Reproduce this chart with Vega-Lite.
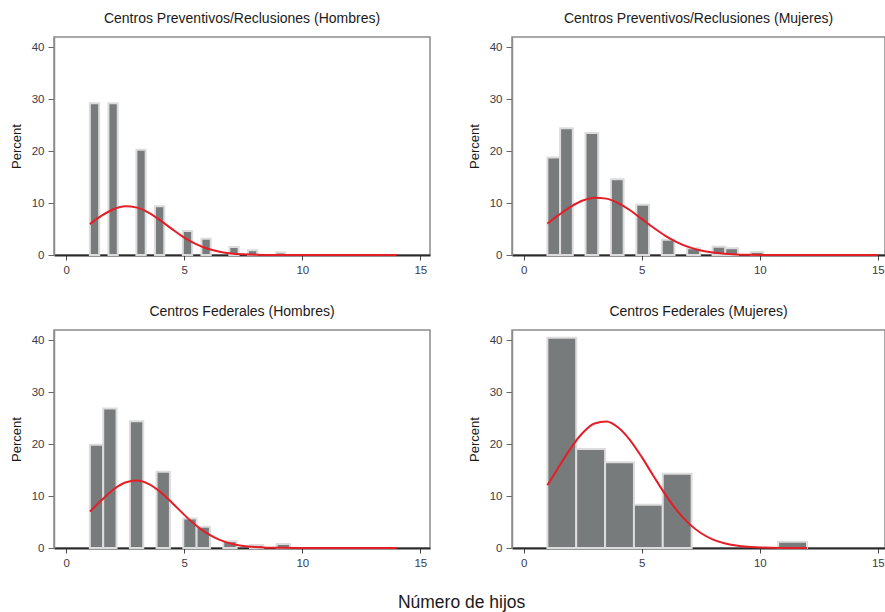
{
  "$schema": "https://vega.github.io/schema/vega-lite/v6.json",
  "padding": {"left": 9, "top": 11, "right": 0, "bottom": 0},
  "background": "white",
  "datasets": {
    "bars": [
      {"p": "P1", "x0": 1.0, "x1": 1.394, "pct": 29.26},
      {"p": "P1", "x0": 1.788, "x1": 2.182, "pct": 29.26},
      {"p": "P1", "x0": 2.970, "x1": 3.364, "pct": 20.3},
      {"p": "P1", "x0": 3.758, "x1": 4.152, "pct": 9.4},
      {"p": "P1", "x0": 4.939, "x1": 5.333, "pct": 4.6},
      {"p": "P1", "x0": 5.727, "x1": 6.121, "pct": 3.15},
      {"p": "P1", "x0": 6.909, "x1": 7.303, "pct": 1.54},
      {"p": "P1", "x0": 7.697, "x1": 8.091, "pct": 0.9},
      {"p": "P1", "x0": 8.879, "x1": 9.273, "pct": 0.5},
      {"p": "P2", "x0": 1.0, "x1": 1.538, "pct": 18.8},
      {"p": "P2", "x0": 1.538, "x1": 2.077, "pct": 24.4},
      {"p": "P2", "x0": 2.615, "x1": 3.154, "pct": 23.5},
      {"p": "P2", "x0": 3.692, "x1": 4.231, "pct": 14.6},
      {"p": "P2", "x0": 4.769, "x1": 5.308, "pct": 9.7},
      {"p": "P2", "x0": 5.846, "x1": 6.385, "pct": 2.95},
      {"p": "P2", "x0": 6.923, "x1": 7.462, "pct": 1.3},
      {"p": "P2", "x0": 8.0, "x1": 8.538, "pct": 1.6},
      {"p": "P2", "x0": 8.538, "x1": 9.077, "pct": 1.3},
      {"p": "P2", "x0": 9.615, "x1": 10.154, "pct": 0.6},
      {"p": "P3", "x0": 1.0, "x1": 1.565, "pct": 19.9},
      {"p": "P3", "x0": 1.565, "x1": 2.130, "pct": 26.9},
      {"p": "P3", "x0": 2.696, "x1": 3.261, "pct": 24.4},
      {"p": "P3", "x0": 3.826, "x1": 4.391, "pct": 14.7},
      {"p": "P3", "x0": 4.957, "x1": 5.522, "pct": 5.7},
      {"p": "P3", "x0": 5.522, "x1": 6.087, "pct": 4.1},
      {"p": "P3", "x0": 6.652, "x1": 7.217, "pct": 1.3},
      {"p": "P3", "x0": 7.783, "x1": 8.348, "pct": 0.6},
      {"p": "P3", "x0": 8.913, "x1": 9.478, "pct": 0.75},
      {"p": "P4", "x0": 1.0, "x1": 2.222, "pct": 40.5},
      {"p": "P4", "x0": 2.222, "x1": 3.444, "pct": 19.05},
      {"p": "P4", "x0": 3.444, "x1": 4.667, "pct": 16.5},
      {"p": "P4", "x0": 4.667, "x1": 5.889, "pct": 8.35},
      {"p": "P4", "x0": 5.889, "x1": 7.111, "pct": 14.3},
      {"p": "P4", "x0": 10.778, "x1": 12.0, "pct": 1.2}
    ],
    "curve": [
      {"p": "P1", "x": 1.0, "y": 5.95}, {"p": "P1", "x": 1.5, "y": 7.57}, {"p": "P1", "x": 2.0, "y": 8.81},
      {"p": "P1", "x": 2.5, "y": 9.38}, {"p": "P1", "x": 3.0, "y": 9.13}, {"p": "P1", "x": 3.5, "y": 8.13},
      {"p": "P1", "x": 4.0, "y": 6.62}, {"p": "P1", "x": 4.5, "y": 4.93}, {"p": "P1", "x": 5.0, "y": 3.35},
      {"p": "P1", "x": 5.5, "y": 2.09}, {"p": "P1", "x": 6.0, "y": 1.19}, {"p": "P1", "x": 6.5, "y": 0.62},
      {"p": "P1", "x": 7.0, "y": 0.29}, {"p": "P1", "x": 7.5, "y": 0.13}, {"p": "P1", "x": 8.0, "y": 0.05},
      {"p": "P1", "x": 8.5, "y": 0.02}, {"p": "P1", "x": 9.0, "y": 0.006}, {"p": "P1", "x": 10.0, "y": 0},
      {"p": "P1", "x": 11.0, "y": 0}, {"p": "P1", "x": 12.0, "y": 0}, {"p": "P1", "x": 13.0, "y": 0},
      {"p": "P1", "x": 14.0, "y": 0},
      {"p": "P2", "x": 1.0, "y": 6.05}, {"p": "P2", "x": 1.5, "y": 7.77}, {"p": "P2", "x": 2.0, "y": 9.33},
      {"p": "P2", "x": 2.5, "y": 10.49}, {"p": "P2", "x": 3.0, "y": 11.04}, {"p": "P2", "x": 3.5, "y": 10.86},
      {"p": "P2", "x": 4.0, "y": 10.0}, {"p": "P2", "x": 4.5, "y": 8.62}, {"p": "P2", "x": 5.0, "y": 6.95},
      {"p": "P2", "x": 5.5, "y": 5.24}, {"p": "P2", "x": 6.0, "y": 3.7}, {"p": "P2", "x": 6.5, "y": 2.45},
      {"p": "P2", "x": 7.0, "y": 1.51}, {"p": "P2", "x": 7.5, "y": 0.87}, {"p": "P2", "x": 8.0, "y": 0.47},
      {"p": "P2", "x": 8.5, "y": 0.24}, {"p": "P2", "x": 9.0, "y": 0.11}, {"p": "P2", "x": 9.5, "y": 0.05},
      {"p": "P2", "x": 10.0, "y": 0.02}, {"p": "P2", "x": 11.0, "y": 0}, {"p": "P2", "x": 12.0, "y": 0},
      {"p": "P2", "x": 13.0, "y": 0}, {"p": "P2", "x": 14.0, "y": 0}, {"p": "P2", "x": 15.0, "y": 0},
      {"p": "P3", "x": 1.0, "y": 7.0}, {"p": "P3", "x": 1.5, "y": 9.25}, {"p": "P3", "x": 2.0, "y": 11.26},
      {"p": "P3", "x": 2.5, "y": 12.61}, {"p": "P3", "x": 3.0, "y": 12.99}, {"p": "P3", "x": 3.5, "y": 12.32},
      {"p": "P3", "x": 4.0, "y": 10.75}, {"p": "P3", "x": 4.5, "y": 8.63}, {"p": "P3", "x": 5.0, "y": 6.38},
      {"p": "P3", "x": 5.5, "y": 4.33}, {"p": "P3", "x": 6.0, "y": 2.71}, {"p": "P3", "x": 6.5, "y": 1.56},
      {"p": "P3", "x": 7.0, "y": 0.83}, {"p": "P3", "x": 7.5, "y": 0.4}, {"p": "P3", "x": 8.0, "y": 0.18},
      {"p": "P3", "x": 8.5, "y": 0.07}, {"p": "P3", "x": 9.0, "y": 0.03}, {"p": "P3", "x": 10.0, "y": 0},
      {"p": "P3", "x": 11.0, "y": 0}, {"p": "P3", "x": 12.0, "y": 0}, {"p": "P3", "x": 13.0, "y": 0},
      {"p": "P3", "x": 14.0, "y": 0},
      {"p": "P4", "x": 1.0, "y": 12.09}, {"p": "P4", "x": 1.5, "y": 15.76}, {"p": "P4", "x": 2.0, "y": 19.3},
      {"p": "P4", "x": 2.5, "y": 22.2}, {"p": "P4", "x": 3.0, "y": 23.99}, {"p": "P4", "x": 3.5, "y": 24.35},
      {"p": "P4", "x": 4.0, "y": 23.22}, {"p": "P4", "x": 4.5, "y": 20.8}, {"p": "P4", "x": 5.0, "y": 17.5},
      {"p": "P4", "x": 5.5, "y": 13.84}, {"p": "P4", "x": 6.0, "y": 10.28}, {"p": "P4", "x": 6.5, "y": 7.17},
      {"p": "P4", "x": 7.0, "y": 4.7}, {"p": "P4", "x": 7.5, "y": 2.89}, {"p": "P4", "x": 8.0, "y": 1.67},
      {"p": "P4", "x": 8.5, "y": 0.91}, {"p": "P4", "x": 9.0, "y": 0.46}, {"p": "P4", "x": 9.5, "y": 0.22},
      {"p": "P4", "x": 10.0, "y": 0.1}, {"p": "P4", "x": 10.5, "y": 0.04}, {"p": "P4", "x": 11.0, "y": 0.02},
      {"p": "P4", "x": 11.5, "y": 0.01}, {"p": "P4", "x": 12.0, "y": 0}
    ]
  },
  "title": {
    "text": "Número de hijos",
    "orient": "bottom",
    "anchor": "middle",
    "frame": "bounds",
    "fontSize": 17.5,
    "fontWeight": "normal",
    "font": "Liberation Sans",
    "color": "#1a1a1a",
    "dx": 14,
    "offset": 25
  },
  "config": {
    "font": "Liberation Sans",
    "view": {"stroke": "#8c8c8c", "strokeWidth": 1.5},
    "axis": {
      "grid": false,
      "labelFont": "Liberation Sans",
      "labelFontSize": 11.5,
      "labelColor": "#3a3a48",
      "labelFlush": false,
      "titleFont": "Liberation Sans",
      "titleFontSize": 13,
      "titleFontWeight": "normal",
      "titleColor": "#1a1a1a"
    },
    "title": {
      "font": "Liberation Sans",
      "fontSize": 14,
      "fontWeight": "normal",
      "color": "#1a1a1a",
      "anchor": "middle",
      "offset": 11
    }
  },
  "spacing": 27,
  "vconcat": [
    {
      "spacing": 36,
      "hconcat": [
        {
          "title": {"text": "Centros Preventivos/Reclusiones (Hombres)", "frame": "group"},
          "width": 376, "height": 218,
          "layer": [
            {
              "data": {"name": "bars"},
              "transform": [{"filter": "datum.p == 'P1'"}],
              "mark": {"type": "rect", "fill": "#777b7b", "stroke": "#dcdcdc", "strokeWidth": 2},
              "encoding": {
                "x": {"field": "x0", "type": "quantitative", "scale": {"domain": [-0.52, 15.41], "nice": false, "zero": false},
                      "axis": {"values": [0, 5, 10, 15], "title": null, "domainColor": "#2a2a2a", "domainWidth": 2, "tickColor": "#444", "tickSize": 5, "labelPadding": 4}},
                "x2": {"field": "x1"},
                "y": {"field": "pct", "type": "quantitative", "scale": {"domain": [0, 42], "nice": false},
                      "axis": {"values": [0, 10, 20, 30, 40], "title": "Percent", "domainColor": "#8c8c8c", "domainWidth": 1.5, "tickColor": "#666", "tickSize": 6, "labelPadding": 4, "titlePadding": 8}},
                "y2": {"datum": 0}
              }
            },
            {
              "data": {"name": "curve"},
              "transform": [{"filter": "datum.p == 'P1'"}],
              "mark": {"type": "line", "color": "#e41e26", "strokeWidth": 2, "interpolate": "monotone"},
              "encoding": {
                "x": {"field": "x", "type": "quantitative"},
                "y": {"field": "y", "type": "quantitative"}
              }
            }
          ]
        },
        {
          "title": {"text": "Centros Preventivos/Reclusiones (Mujeres)", "frame": "group"},
          "width": 373, "height": 218,
          "layer": [
            {
              "data": {"name": "bars"},
              "transform": [{"filter": "datum.p == 'P2'"}],
              "mark": {"type": "rect", "fill": "#777b7b", "stroke": "#dcdcdc", "strokeWidth": 2},
              "encoding": {
                "x": {"field": "x0", "type": "quantitative", "scale": {"domain": [-0.5, 15.305], "nice": false, "zero": false},
                      "axis": {"values": [0, 5, 10, 15], "title": null, "domainColor": "#2a2a2a", "domainWidth": 2, "tickColor": "#444", "tickSize": 5, "labelPadding": 4}},
                "x2": {"field": "x1"},
                "y": {"field": "pct", "type": "quantitative", "scale": {"domain": [0, 42], "nice": false},
                      "axis": {"values": [0, 10, 20, 30, 40], "title": "Percent", "domainColor": "#8c8c8c", "domainWidth": 1.5, "tickColor": "#666", "tickSize": 6, "labelPadding": 4, "titlePadding": 8}},
                "y2": {"datum": 0}
              }
            },
            {
              "data": {"name": "curve"},
              "transform": [{"filter": "datum.p == 'P2'"}],
              "mark": {"type": "line", "color": "#e41e26", "strokeWidth": 2, "interpolate": "monotone"},
              "encoding": {
                "x": {"field": "x", "type": "quantitative"},
                "y": {"field": "y", "type": "quantitative"}
              }
            }
          ]
        }
      ]
    },
    {
      "spacing": 36,
      "hconcat": [
        {
          "title": {"text": "Centros Federales (Hombres)", "frame": "group"},
          "width": 376, "height": 218,
          "layer": [
            {
              "data": {"name": "bars"},
              "transform": [{"filter": "datum.p == 'P3'"}],
              "mark": {"type": "rect", "fill": "#777b7b", "stroke": "#dcdcdc", "strokeWidth": 2},
              "encoding": {
                "x": {"field": "x0", "type": "quantitative", "scale": {"domain": [-0.52, 15.41], "nice": false, "zero": false},
                      "axis": {"values": [0, 5, 10, 15], "title": null, "domainColor": "#2a2a2a", "domainWidth": 2, "tickColor": "#444", "tickSize": 5, "labelPadding": 4}},
                "x2": {"field": "x1"},
                "y": {"field": "pct", "type": "quantitative", "scale": {"domain": [0, 42], "nice": false},
                      "axis": {"values": [0, 10, 20, 30, 40], "title": "Percent", "domainColor": "#8c8c8c", "domainWidth": 1.5, "tickColor": "#666", "tickSize": 6, "labelPadding": 4, "titlePadding": 8}},
                "y2": {"datum": 0}
              }
            },
            {
              "data": {"name": "curve"},
              "transform": [{"filter": "datum.p == 'P3'"}],
              "mark": {"type": "line", "color": "#e41e26", "strokeWidth": 2, "interpolate": "monotone"},
              "encoding": {
                "x": {"field": "x", "type": "quantitative"},
                "y": {"field": "y", "type": "quantitative"}
              }
            }
          ]
        },
        {
          "title": {"text": "Centros Federales (Mujeres)", "frame": "group"},
          "width": 373, "height": 218,
          "layer": [
            {
              "data": {"name": "bars"},
              "transform": [{"filter": "datum.p == 'P4'"}],
              "mark": {"type": "rect", "fill": "#777b7b", "stroke": "#dcdcdc", "strokeWidth": 2},
              "encoding": {
                "x": {"field": "x0", "type": "quantitative", "scale": {"domain": [-0.5, 15.305], "nice": false, "zero": false},
                      "axis": {"values": [0, 5, 10, 15], "title": null, "domainColor": "#2a2a2a", "domainWidth": 2, "tickColor": "#444", "tickSize": 5, "labelPadding": 4}},
                "x2": {"field": "x1"},
                "y": {"field": "pct", "type": "quantitative", "scale": {"domain": [0, 42], "nice": false},
                      "axis": {"values": [0, 10, 20, 30, 40], "title": "Percent", "domainColor": "#8c8c8c", "domainWidth": 1.5, "tickColor": "#666", "tickSize": 6, "labelPadding": 4, "titlePadding": 8}},
                "y2": {"datum": 0}
              }
            },
            {
              "data": {"name": "curve"},
              "transform": [{"filter": "datum.p == 'P4'"}],
              "mark": {"type": "line", "color": "#e41e26", "strokeWidth": 2, "interpolate": "monotone"},
              "encoding": {
                "x": {"field": "x", "type": "quantitative"},
                "y": {"field": "y", "type": "quantitative"}
              }
            }
          ]
        }
      ]
    }
  ]
}
